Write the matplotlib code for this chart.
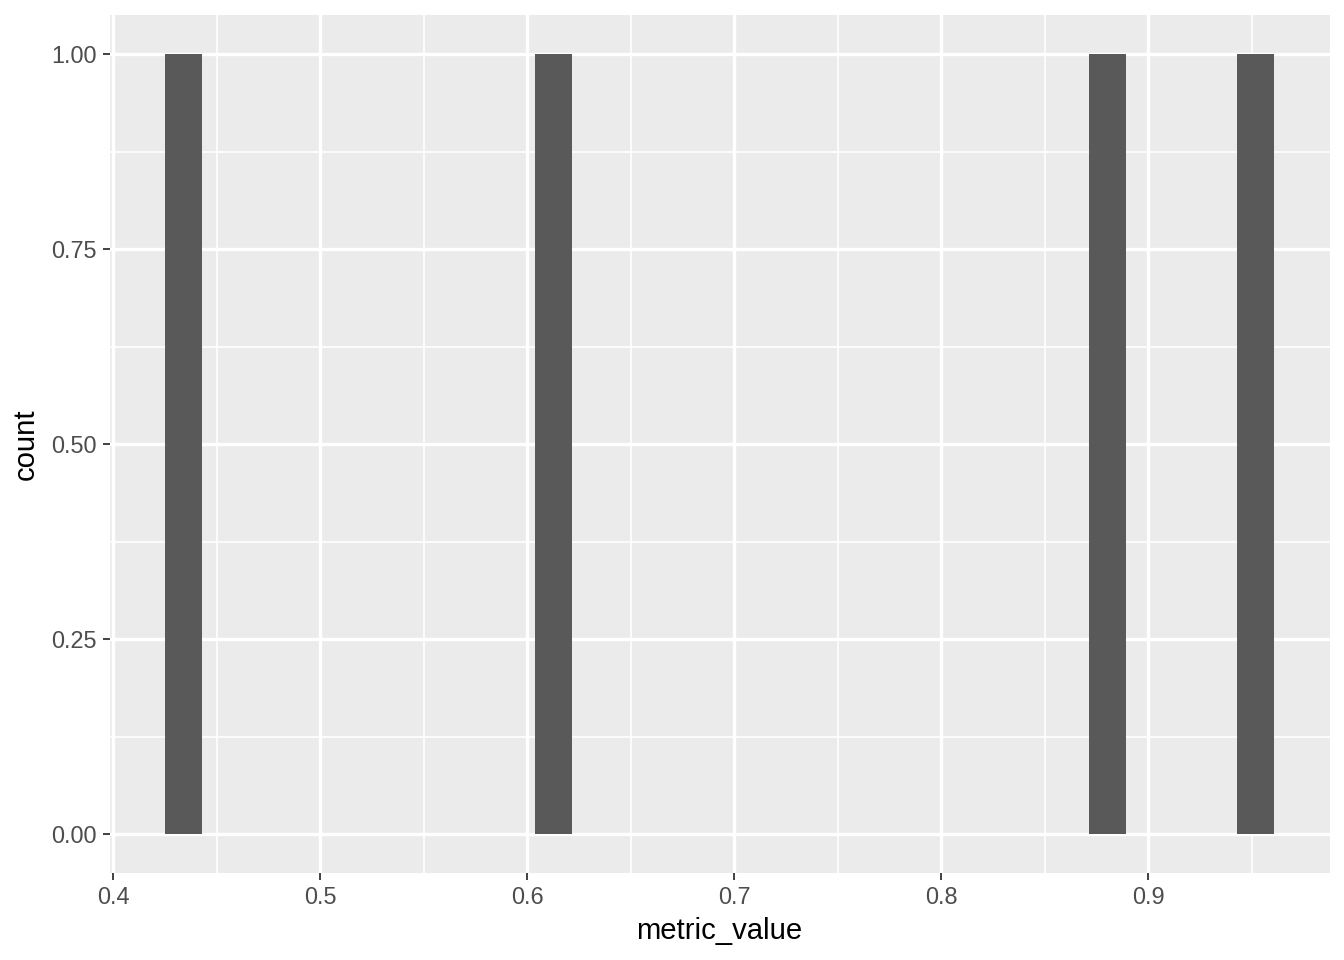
import numpy as np
import matplotlib
matplotlib.use("Agg")
import matplotlib.pyplot as plt

plt.rcParams['font.family'] = ['Liberation Sans', 'DejaVu Sans']

# data
metric_value = [0.4339, 0.6127, 0.8804, 0.9519]
n_bins = 30
x_ticks = [0.4, 0.5, 0.6, 0.7, 0.8, 0.9]
y_ticks = [0.0, 0.25, 0.5, 0.75, 1.0]

# ggplot-style bins: first/last bin centred on min/max
lo, hi = min(metric_value), max(metric_value)
w = (hi - lo) / (n_bins - 1)
edges = np.linspace(lo - w / 2, hi + w / 2, n_bins + 1)
counts, edges = np.histogram(metric_value, bins=edges)

fig = plt.figure(figsize=(13.44, 9.6), dpi=100)
ax = fig.add_axes([109.6 / 1344, 87 / 960, 1220 / 1344, 858 / 960])
ax.set_facecolor('#EBEBEB')

ax.bar(edges[:-1], counts, width=np.diff(edges), align='edge',
       color='#595959', linewidth=0, zorder=3)

xr = edges[-1] - edges[0]
ax.set_xlim(edges[0] - 0.05 * xr, edges[-1] + 0.05 * xr)
ax.set_ylim(-0.05, 1.05)

ax.set_xticks(x_ticks)
ax.set_xticklabels([f"{t:g}" for t in x_ticks])
ax.set_yticks(y_ticks)
ax.set_yticklabels([f"{t:.2f}" for t in y_ticks])
ax.set_xticks([0.45, 0.55, 0.65, 0.75, 0.85, 0.95], minor=True)
ax.set_yticks([0.125, 0.375, 0.625, 0.875], minor=True)

ax.grid(which='major', color='white', linewidth=2.4, zorder=1)
ax.grid(which='minor', color='white', linewidth=1.2, zorder=1)
ax.set_axisbelow(True)
for s in ax.spines.values():
    s.set_visible(False)

ax.tick_params(which='major', length=5.3, width=1.3, color='#333333',
               labelcolor='#4D4D4D', labelsize=16.9, pad=4)
ax.tick_params(which='minor', length=0)

ax.set_xlabel('metric_value', fontsize=21.1, color='black', labelpad=6)
ax.set_ylabel('count', fontsize=21.1, color='black', labelpad=8)

fig.savefig('out.png', dpi=100, facecolor='white')
